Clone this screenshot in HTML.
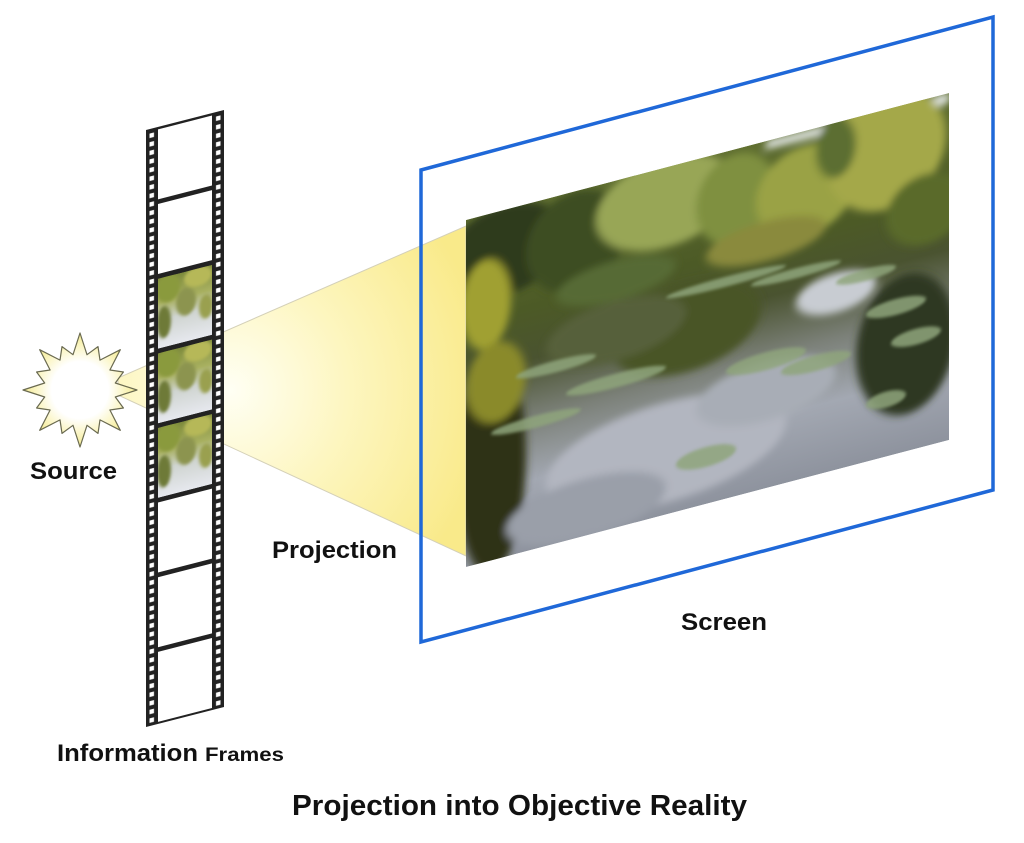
<!DOCTYPE html>
<html><head><meta charset="utf-8"><style>
html,body{margin:0;padding:0;background:#fff;}
svg{display:block;}
text{font-family:"Liberation Sans",Arial,sans-serif;font-weight:bold;fill:#111;}
</style></head><body>
<svg width="1024" height="843" viewBox="0 0 1024 843" xmlns="http://www.w3.org/2000/svg" xmlns:xlink="http://www.w3.org/1999/xlink">
<defs>
  <radialGradient id="beam" cx="230" cy="390" r="260" gradientUnits="userSpaceOnUse">
    <stop offset="0" stop-color="#fffff4"/>
    <stop offset="0.45" stop-color="#fdf6c0"/>
    <stop offset="1" stop-color="#f9ea8a"/>
  </radialGradient>
  <radialGradient id="sun" cx="80" cy="390" r="57" gradientUnits="userSpaceOnUse">
    <stop offset="0" stop-color="#ffffff"/>
    <stop offset="0.5" stop-color="#ffffff"/>
    <stop offset="0.75" stop-color="#fbf6c8"/>
    <stop offset="1" stop-color="#f3ea90"/>
  </radialGradient>
  <linearGradient id="pbase" x1="0" y1="0" x2="0" y2="1">
    <stop offset="0" stop-color="#5f6e30"/>
    <stop offset="0.3" stop-color="#4c5a26"/>
    <stop offset="0.45" stop-color="#4a5330"/>
    <stop offset="0.62" stop-color="#7b8078"/>
    <stop offset="0.8" stop-color="#a3a8b2"/>
    <stop offset="1" stop-color="#8e939e"/>
  </linearGradient>
  <linearGradient id="fbase" x1="0" y1="0" x2="0" y2="1">
    <stop offset="0" stop-color="#7d8a3c"/>
    <stop offset="0.35" stop-color="#a8b060"/>
    <stop offset="0.6" stop-color="#cfd4d0"/>
    <stop offset="1" stop-color="#e6e8ee"/>
  </linearGradient>
  <pattern id="holes" x="0" y="3" width="78" height="8.6" patternUnits="userSpaceOnUse">
    <rect x="0" y="0" width="78" height="8.6" fill="#222"/>
    <rect x="3.5" y="1.5" width="4.5" height="4.5" fill="#fff"/>
    <rect x="70" y="1.5" width="4.5" height="4.5" fill="#fff"/>
  </pattern>
  <filter id="bl" x="-20%" y="-20%" width="140%" height="140%"><feGaussianBlur stdDeviation="4"/></filter>
  <filter id="bl2" x="-20%" y="-20%" width="140%" height="140%"><feGaussianBlur stdDeviation="1.5"/></filter>
  <clipPath id="pc"><rect x="0" y="0" width="483" height="347"/></clipPath>
  <clipPath id="fc"><rect x="0" y="0" width="54" height="70"/></clipPath>
  <g id="fphoto">
    <rect x="0" y="0" width="54" height="70" fill="url(#fbase)"/>
    <g filter="url(#bl2)">
      <ellipse cx="10" cy="12" rx="12" ry="14" fill="#8a9a3c"/>
      <ellipse cx="40" cy="8" rx="14" ry="10" fill="#b6b858"/>
      <ellipse cx="28" cy="30" rx="10" ry="14" fill="#8c9450"/>
      <ellipse cx="6" cy="45" rx="7" ry="16" fill="#6e7a38"/>
      <ellipse cx="48" cy="40" rx="7" ry="12" fill="#9aa050"/>
    </g>
  </g>
</defs>

<!-- light beam -->
<polygon points="118,378 466,226 466,556 118,395" fill="url(#beam)" stroke="#d4d0b8" stroke-width="1"/>

<!-- sun -->
<polygon fill="url(#sun)" stroke="#6a6a50" stroke-width="1.2" stroke-linejoin="round" points="80,333 87,354.7 98,346.6 100,360.1 120.3,349.7 109.9,370 123.4,372 115.3,383 137,390 115.3,397 123.4,408 109.9,410 120.3,430.3 100,419.9 98,433.4 87,425.3 80,447 73,425.3 62,433.4 60,419.9 39.7,430.3 50.1,410 36.6,408 44.7,397 23,390 44.7,383 36.6,372 50.1,370 39.7,349.7 60,360.1 62,346.6 73,354.7"/>

<!-- film strip -->
<g transform="translate(146,130) skewY(-14.4)">
  <rect x="0" y="0" width="78" height="597" fill="#222"/>
  <rect x="0" y="2" width="78" height="593" fill="url(#holes)"/>
  <g fill="#fff">
    <rect x="12" y="2.5" width="54" height="70"/>
    <rect x="12" y="77.1" width="54" height="70"/>
    <rect x="12" y="375.6" width="54" height="70"/>
    <rect x="12" y="450.3" width="54" height="70"/>
    <rect x="12" y="524.9" width="54" height="70"/>
  </g>
  <g transform="translate(12,151.8)" clip-path="url(#fc)"><use href="#fphoto" xlink:href="#fphoto"/></g>
  <g transform="translate(12,226.4)" clip-path="url(#fc)"><use href="#fphoto" xlink:href="#fphoto"/></g>
  <g transform="translate(12,301)" clip-path="url(#fc)"><use href="#fphoto" xlink:href="#fphoto"/></g>
</g>

<!-- screen frame -->
<polygon points="421,170 993,17 993,490 421,642" fill="none" stroke="#1f68d8" stroke-width="3.5"/>

<!-- photo -->
<g transform="translate(466,220) skewY(-14.73)">
  <g clip-path="url(#pc)">
    <rect x="0" y="0" width="483" height="347" fill="url(#pbase)"/>
    <g filter="url(#bl)">
      <polygon points="300,0 483,0 483,10 300,8" fill="#e8ecee"/>
      <ellipse cx="40" cy="40" rx="60" ry="45" fill="#2e3b1c"/>
      <ellipse cx="110" cy="50" rx="50" ry="50" fill="#3d4d22"/>
      <ellipse cx="20" cy="90" rx="25" ry="45" fill="#a0a030"/>
      <ellipse cx="200" cy="35" rx="70" ry="45" fill="#98a656"/>
      <ellipse cx="270" cy="50" rx="40" ry="45" fill="#7f9040"/>
      <ellipse cx="340" cy="60" rx="50" ry="45" fill="#9aa244"/>
      <ellipse cx="420" cy="40" rx="60" ry="60" fill="#a4a848"/>
      <ellipse cx="370" cy="25" rx="20" ry="30" fill="#5c6e30"/>
      <ellipse cx="460" cy="110" rx="40" ry="35" fill="#5a6a2c"/>
      <ellipse cx="300" cy="100" rx="60" ry="20" fill="#8a8a3c"/>
      <ellipse cx="150" cy="100" rx="60" ry="20" fill="#566a34"/>
      <ellipse cx="25" cy="250" rx="35" ry="110" fill="#2e3318"/>
      <ellipse cx="30" cy="170" rx="30" ry="40" fill="#8a8a2c"/>
      <ellipse cx="220" cy="165" rx="75" ry="45" fill="#4a5428"/>
      <ellipse cx="150" cy="150" rx="70" ry="30" fill="#56603a"/>
      <ellipse cx="440" cy="240" rx="50" ry="70" fill="#2f3820"/>
      <ellipse cx="370" cy="170" rx="40" ry="20" fill="#c8ccd2"/>
      <ellipse cx="200" cy="285" rx="120" ry="50" fill="#b2b6c0"/>
      <ellipse cx="300" cy="250" rx="70" ry="30" fill="#a8adb6"/>
      <ellipse cx="120" cy="320" rx="80" ry="30" fill="#9a9fa9"/>
    </g>
    <g fill="#8fa57c" opacity="0.85" filter="url(#bl2)">
      <ellipse cx="90" cy="170" rx="40" ry="6"/>
      <ellipse cx="150" cy="200" rx="50" ry="7"/>
      <ellipse cx="70" cy="220" rx="45" ry="6"/>
      <ellipse cx="260" cy="130" rx="60" ry="5"/>
      <ellipse cx="330" cy="140" rx="45" ry="5"/>
      <ellipse cx="300" cy="220" rx="40" ry="9"/>
      <ellipse cx="350" cy="235" rx="35" ry="8"/>
      <ellipse cx="240" cy="300" rx="30" ry="10"/>
      <ellipse cx="430" cy="200" rx="30" ry="8"/>
      <ellipse cx="450" cy="235" rx="25" ry="8"/>
      <ellipse cx="420" cy="290" rx="20" ry="8"/>
      <ellipse cx="400" cy="160" rx="30" ry="6"/>
    </g>
  </g>
</g>

<!-- labels -->
<text x="30" y="479" font-size="24" textLength="87" lengthAdjust="spacingAndGlyphs">Source</text>
<text x="272" y="558" font-size="24" textLength="125" lengthAdjust="spacingAndGlyphs">Projection</text>
<text x="681" y="630" font-size="24" textLength="86" lengthAdjust="spacingAndGlyphs">Screen</text>
<text x="57" y="761" font-size="24" textLength="141" lengthAdjust="spacingAndGlyphs">Information</text>
<text x="205" y="761" font-size="19" textLength="79" lengthAdjust="spacingAndGlyphs">Frames</text>
<text x="292" y="815" font-size="29" textLength="455" lengthAdjust="spacingAndGlyphs">Projection into Objective Reality</text>
</svg>
</body></html>
